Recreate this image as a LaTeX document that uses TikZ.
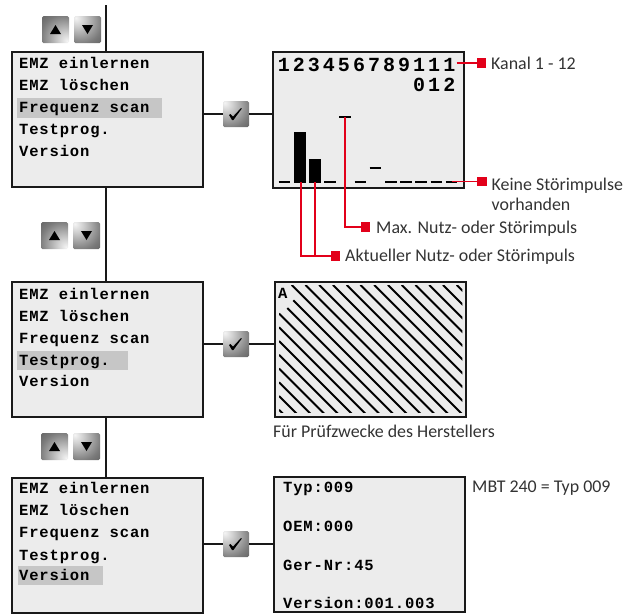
\documentclass[tikz,border=0pt]{standalone}
\usepackage{fontspec}
\usetikzlibrary{calc}
\setmainfont{Carlito}
\newfontfamily\lcd[LetterSpace=5.5,BoldFont={Liberation Mono Bold}]{Liberation Mono}
\newfontfamily\lcdwide[LetterSpace=15.2,BoldFont={Liberation Mono Bold}]{Liberation Mono}
\definecolor{lcdbg}{HTML}{ECECEC}
\definecolor{lcdsel}{HTML}{C6C6C6}
\definecolor{mark}{HTML}{E2001A}
\pgfdeclareradialshading{btnTL}{\pgfpoint{-22bp}{22bp}}{color(0bp)=(white!92!gray); color(12bp)=(white!65!gray); color(40bp)=(black!52); color(62bp)=(black!68); color(100bp)=(black!75)}
\pgfdeclareradialshading{btnBR}{\pgfpoint{22bp}{-22bp}}{color(0bp)=(white!92!gray); color(12bp)=(white!65!gray); color(40bp)=(black!52); color(62bp)=(black!68); color(100bp)=(black!75)}
\tikzset{
  lcdbox/.style={draw=black!90,line width=2pt,fill=lcdbg,inner sep=0pt,outer sep=0pt},
  menuline/.style={anchor=base west,inner sep=0pt,font=\lcd\bfseries\fontsize{15.5}{15.5}\selectfont,text=black},
  digits/.style={anchor=base east,inner sep=0pt,font=\lcdwide\bfseries\fontsize{20}{20}\selectfont,text=black},
  sel/.style={fill=lcdsel,inner sep=0pt,outer sep=0pt},
  btn/.style={minimum size=27pt,inner sep=0pt,outer sep=0pt,rounded corners=1.5pt,shade},
  wire/.style={draw=black!90,line width=2pt},
  redwire/.style={draw=mark,line width=1.5pt},
  tab/.style={fill=mark,minimum size=9.5pt,inner sep=0pt,outer sep=0pt},
  caption/.style={anchor=base west,inner sep=0pt,font=\fontsize{17.9}{17.9}\selectfont,text=black!80},
  hatch/.style={draw=black,line width=2pt},
  seg/.style={draw=black,line width=2.4pt},
}
\newcommand{\upbtn}[3]{\node[btn,shading=btnBR] (#1) at (#2,#3) {};
  \fill[black] ($(#1.center)+(-5.5,4.5)$) -- ($(#1.center)+(5.5,4.5)$) -- ($(#1.center)+(0,-4.5)$) -- cycle;}
\newcommand{\downbtn}[3]{\node[btn,shading=btnTL] (#1) at (#2,#3) {};
  \fill[black] ($(#1.center)+(-5.5,-4.5)$) -- ($(#1.center)+(5.5,-4.5)$) -- ($(#1.center)+(0,4.5)$) -- cycle;}
\newcommand{\chkbtn}[3]{\node[btn,shading=btnTL,minimum size=26pt] (#1) at (#2,#3) {};
  \fill[black] ($(#1.center)+(-7,1)$) -- ($(#1.center)+(-5.5,0)$) -- ($(#1.center)+(-3,2.6)$) -- ($(#1.center)+(5,-6)$) -- ($(#1.center)+(5.8,-5.4)$) -- ($(#1.center)+(-2.6,6)$) -- ($(#1.center)+(-4,6)$) -- cycle;}
\newcommand{\menutext}[6]{%
  \node[menuline] (#1a) at (19,#2) {EMZ einlernen};
  \node[menuline] (#1b) at (19,#3) {EMZ löschen};
  \node[menuline] (#1c) at (19,#4) {Frequenz scan};
  \node[menuline] (#1d) at (19,#5) {Testprog.};
  \node[menuline] (#1e) at (19,#6) {Version};}
\begin{document}
\begin{tikzpicture}[x=1pt,y=-1pt]
\useasboundingbox (0,0) rectangle (623,614);
% screens
\node[lcdbox,minimum width=191pt,minimum height=135pt] (menuA) at (107.5,119.5) {};
\node[lcdbox,minimum width=191pt,minimum height=135pt] (menuB) at (107.5,349.5) {};
\node[lcdbox,minimum width=191pt,minimum height=135pt] (menuC) at (107.5,545) {};
\node[lcdbox,minimum width=191pt,minimum height=135.5pt] (scrA) at (368,120) {};
\node[lcdbox,minimum width=191pt,minimum height=135.5pt] (scrB) at (370,349.5) {};
\node[lcdbox,minimum width=191pt,minimum height=135.5pt] (scrC) at (369.5,544.5) {};
% selections
\fill[sel] (17,98) rectangle (161.5,118);
\fill[sel] (17,351) rectangle (128,370);
\fill[sel] (18,566) rectangle (102.5,585);
\menutext{ma}{68.3}{90.3}{112.3}{134.3}{156.7}
\menutext{mb}{299.5}{321.5}{343.5}{365.5}{386}
\menutext{mc}{493.3}{515.3}{537.3}{560}{580.3}
% vertical wires
\coordinate (top) at (105.5,5);
\draw[wire] (top) -- (top |- menuA.north);
\draw[wire] (top |- menuA.south) -- (top |- menuB.north);
\draw[wire] (top |- menuB.south) -- (top |- menuC.north);
% buttons
\upbtn{ua}{55.5}{29.5}\downbtn{da}{87.5}{29.5}
\upbtn{ub}{54.5}{235.5}\downbtn{db}{86.5}{235.5}
\upbtn{uc}{54.5}{446.5}\downbtn{dc}{86.5}{446.5}
\chkbtn{ca}{236}{114}\chkbtn{cb}{236}{344}\chkbtn{cc}{236}{544}
\draw[wire] (menuA.east |- ca) -- (ca);
\draw[wire] (ca) -- (ca -| scrA.west);
\draw[wire] (menuB.east |- cb) -- (cb);
\draw[wire] (cb) -- (cb -| scrB.west);
\draw[wire] (menuC.east |- cc) -- (cc);
\draw[wire] (cc) -- (cc -| scrC.west);
% screen A content
\node[digits] (dg1) at (455.5,71) {123456789111};
\node[digits] (dg2) at (455.5,91.5) {012};
\fill[black] (294.3,132) rectangle (305.7,182.7);
\fill[black] (309.3,159) rectangle (321,182.7);
\foreach \x in {278.5,324,354.5,385,400.2,415.4,430.6,445.8}
  \draw[seg] (\x,181.7) -- ++(11.5,0);
\draw[seg] (339.3,116.7) -- ++(11.5,0);
\draw[seg] (369.7,168) -- ++(11.5,0);
% red callouts
\coordinate (cKanal) at (456.7,63);
\coordinate (cKeine) at (451.7,181.6);
\coordinate (cMax) at (345,117);
\coordinate (cAk1) at (301,182);
\coordinate (cAk2) at (315,182);
\node[tab] (tKanal) at (481.3,63) {};
\node[tab] (tKeine) at (482.2,181.6) {};
\node[tab] (tMax) at (365.3,227) {};
\node[tab] (tAk) at (335.3,255.8) {};
\draw[redwire] (cKanal) -- (tKanal);
\draw[redwire] (cKeine) -- (tKeine);
\draw[redwire] (cMax) |- (tMax);
\draw[redwire] (cAk1) |- (tAk);
\draw[redwire] (cAk2) |- (tAk);
\node[caption] (lKanal) at (491,69.3) {Kanal 1 - 12};
\node[caption] (lKeine) at (491.5,190) {Keine Störimpulse};
\node[caption] (lVor) at (491.5,210) {vorhanden};
\node[caption] (lMax) at (376,233) {Max. Nutz- oder Störimpuls};
\node[caption] (lAk) at (345,261) {Aktueller Nutz- oder Störimpuls};
% screen B content
\begin{scope}
\clip (279,285) rectangle (462.3,412.3);
\foreach \k in {-10,...,12}{
  \pgfmathsetmacro{\c}{6.7+13.75*\k}
  \pgfmathsetmacro{\xs}{\k==-1 ? 293.3 : (\k==-2 ? 287.3 : (\k==0 ? 291.7 : 279))}
  \pgfmathsetmacro{\xfrom}{\k>0 ? 285+\c : \xs}
  \draw[hatch] (\xfrom,\xfrom-\c) -- (480,480-\c);
}
\end{scope}
\node[menuline] (tA) at (278,298) {A};
\node[caption] (lFuer) at (273,437.7) {Für Prüfzwecke des Herstellers};
% screen C content
\node[menuline] (typ) at (283,492.3) {Typ:009};
\node[menuline] (oem) at (283,531) {OEM:000};
\node[menuline] (ger) at (283,570.7) {Ger-Nr:45};
\node[menuline] (ver) at (283,608.3) {Version:001.003};
\node[caption] (lMbt) at (472,492.3) {MBT 240 = Typ 009};
\end{tikzpicture}
\end{document}
